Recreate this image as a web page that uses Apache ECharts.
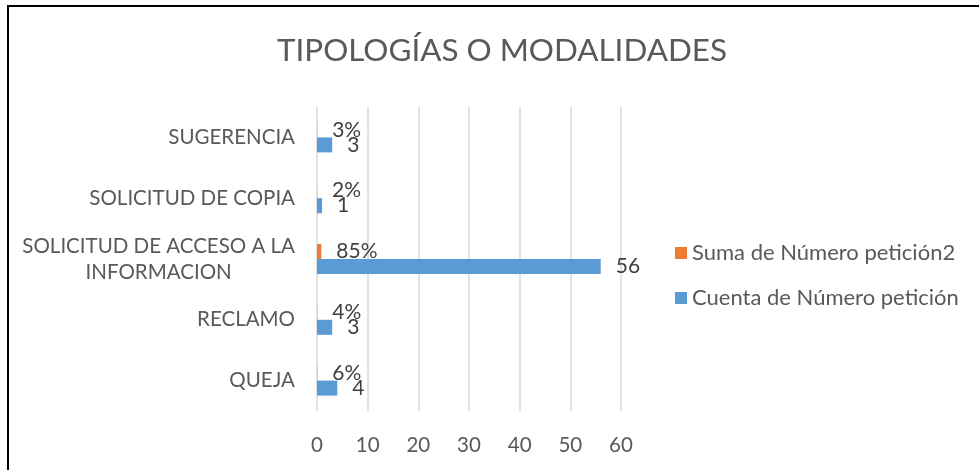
<!DOCTYPE html>
<html>
<head>
<meta charset="utf-8">
<script src="https://cdn.jsdelivr.net/npm/echarts@6/dist/echarts.min.js"></script>
<style>
  html, body { margin: 0; padding: 0; background: #fff; }
  #main { width: 979px; height: 470px; }
</style>
</head>
<body>
<div id="main"></div>
<script>
// categorias de abajo hacia arriba
var categorias = ['QUEJA', 'RECLAMO', 'SOLICITUD DE ACCESO A LA\nINFORMACION', 'SOLICITUD DE COPIA', 'SUGERENCIA'];
var cuenta = [4, 3, 56, 1, 3];
var suma = [0.06, 0.04, 0.85, 0.02, 0.03];
var ticksX = [0, 10, 20, 30, 40, 50, 60];

var fuente = 'Lato';
var myChart = echarts.init(document.getElementById('main'));

var options = {
  animation: false,
  title: {
    text: 'TIPOLOGÍAS O MODALIDADES',
    left: 272,
    top: 30,
    textStyle: { fontFamily: fuente, fontSize: 31.4, fontWeight: 'normal', color: '#595959' }
  },
  legend: {
    orient: 'vertical',
    left: 670,
    top: 237,
    itemWidth: 12,
    itemHeight: 12,
    itemGap: 23,
    icon: 'rect',
    data: ['Suma de Número petición2', 'Cuenta de Número petición'],
    textStyle: { fontFamily: fuente, fontSize: 22, color: '#595959' }
  },
  grid: { left: 317, right: 358, top: 107, bottom: 59, containLabel: false },
  xAxis: {
    type: 'value',
    min: ticksX[0],
    max: ticksX[ticksX.length - 1],
    interval: 10,
    axisLine: { show: false },
    axisTick: { show: false },
    splitLine: { lineStyle: { color: '#d9d9d9', width: 1.5 } },
    axisLabel: { fontFamily: fuente, fontSize: 20.5, color: '#595959', margin: 24 }
  },
  yAxis: {
    type: 'category',
    data: categorias,
    axisLine: { show: false },
    axisTick: { show: false },
    axisLabel: {
      margin: 22,
      formatter: function (v) {
        return v.split('\n').map(function (l) { return '{c|' + l + '}'; }).join('\n');
      },
      rich: {
        c: { align: 'center', fontFamily: fuente, fontSize: 20.5, color: '#595959', lineHeight: 26 }
      }
    }
  },
  series: [
    {
      name: 'Suma de Número petición2',
      type: 'bar',
      data: suma,
      barWidth: 15,
      barGap: '0%',
      itemStyle: { color: '#ed7d31' },
      label: {
        show: true, position: 'right', distance: 15,
        fontFamily: fuente, fontSize: 21, color: '#404040',
        formatter: function (p) { return Math.round(p.value * 100) + '%'; }
      }
    },
    {
      name: 'Cuenta de Número petición',
      type: 'bar',
      data: cuenta,
      barWidth: 15,
      barGap: '0%',
      itemStyle: { color: '#5b9bd5' },
      label: {
        show: true, position: 'right', distance: 15,
        fontFamily: fuente, fontSize: 21, color: '#404040'
      }
    }
  ],
  graphic: [{
    type: 'rect',
    shape: { x: 8, y: 6, width: 1000, height: 500 },
    style: { fill: null, stroke: '#000', lineWidth: 2 },
    silent: true
  }]
};
myChart.setOption(options);
</script>
</body>
</html>
